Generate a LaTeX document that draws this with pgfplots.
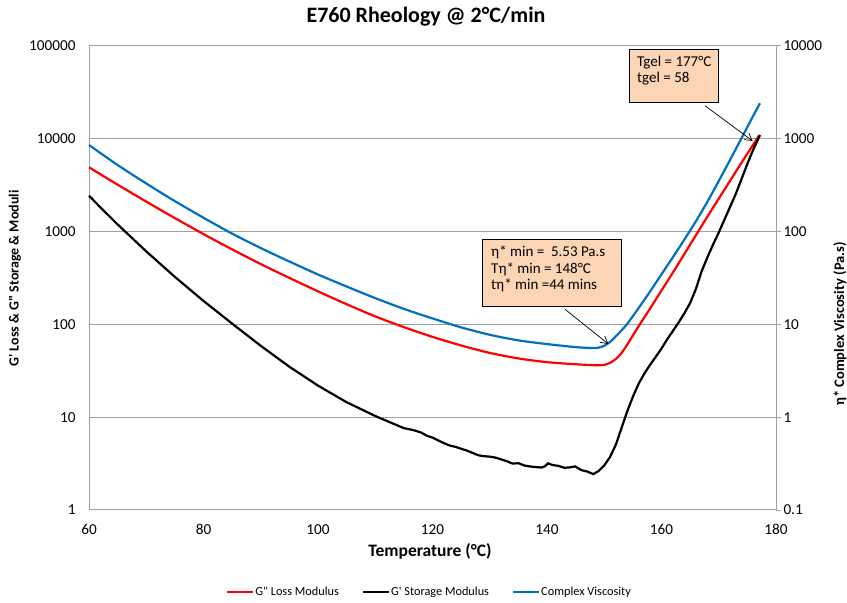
\documentclass[border=0pt]{standalone}
\usepackage{fontspec}
\setmainfont{Carlito}[Ligatures=TeXOff]
\usepackage{pgfplots}
\pgfplotsset{compat=1.18}
\usetikzlibrary{arrows.meta}
\definecolor{cblue}{RGB}{0,112,192}
\definecolor{peach}{RGB}{252,213,181}
\definecolor{gridgray}{RGB}{160,160,160}
\begin{document}
\begin{tikzpicture}
\path[use as bounding box] (0,0) rectangle (847pt,603pt);
\begin{axis}[
  at={(89pt,93pt)}, anchor=south west, scale only axis,
  width=687pt, height=464pt,
  xmin=60, xmax=180, xtick={60,80,...,180},
  ymode=log, ymin=1, ymax=100000,
  ytick={1,10,100,1000,10000,100000},
  yticklabels={1,10,100,1000,10000,100000},
  yminorticks=false, ymajorgrids,
  grid style={gridgray, line width=1pt},
  axis line style={gridgray, line width=1pt},
  tick style={draw=none},
  /pgf/number format/assume math mode=true,
  ticklabel style={font=\fontsize{15.2}{17}\selectfont},
  yticklabel style={xshift=-10pt},
  xticklabel style={yshift=-11pt},
  clip=false,
]
% G'' loss modulus
\addplot[red, line width=2.2pt, smooth] table {
60 4932
65 3203
70 2104
75 1398
80 940
85 643
90 447
95 317
100 227
105 165
110 122
115 93.4
120 73.4
125 59.3
130 49.3
135 43.0
140 39.2
145 37.2
148 36.4
149 36.3
150 36.7
151 38.5
152 42.2
153 49.0
154 60.3
155 75.9
156 95.5
157 119
158 148
160 232
162 363
164 575
166 912
168 1445
170 2265
172 3548
174 5559
176 8610
177.1 10965
};
% G' storage modulus
\addplot[black, line width=2.2pt] table {
60 2438
62 1820
65 1194
70 612
75 325
80 179
85 102
90 58.8
95 35.0
100 21.9
105 14.5
110 10.3
113 8.59
115 7.62
116 7.41
117 7.16
118 6.84
119 6.31
120 6.03
121 5.62
122 5.25
123 4.95
124 4.79
125 4.57
126 4.37
127 4.12
128 3.89
129 3.80
130 3.76
131 3.67
132 3.51
133 3.35
134 3.16
135 3.20
136 3.02
137 2.95
138 2.90
139 2.87
139.6 2.95
140.2 3.18
141 3.05
142 2.99
143 2.85
144 2.88
144.9 2.95
146 2.69
147 2.60
148.1 2.44
149 2.63
150 3.02
151 3.72
152 5.01
153 7.59
154 11.5
155 16.6
156 22.9
157 29.5
158 36.7
159 44.7
160 55.0
161 69.2
162 85.1
163 105
164 132
165 170
166 240
167 372
168 525
169 724
170 977
171 1349
172 1862
173 2570
174 3715
175 5370
176 7586
177.2 10965
};
\end{axis}
\begin{axis}[
  at={(89pt,93pt)}, anchor=south west, scale only axis,
  width=687pt, height=464pt,
  xmin=60, xmax=180, axis x line=none, axis y line*=right,
  ymode=log, ymin=0.1, ymax=10000,
  ytick={0.1,1,10,100,1000,10000},
  yticklabels={0.1,1,10,100,1000,10000},
  yminorticks=false,
  axis line style={gridgray, line width=1pt},
  tick align=outside, major tick length=5pt,
  ytick style={gridgray, line width=1pt},
  /pgf/number format/assume math mode=true,
  ticklabel style={font=\fontsize{15.2}{17}\selectfont},
  yticklabel style={xshift=-1pt},
  legend style={at={(0.495,-0.1767)}, anchor=center, draw=none, fill=none,
    font=\fontsize{12.3}{14}\selectfont, nodes={inner sep=1pt},
    /tikz/every even column/.append style={column sep=22pt}},
  legend columns=3,
  legend image code/.code={\draw[#1] (0pt,0pt) -- (26pt,0pt);},
  clip=false,
]
\addlegendimage{red, line width=2.2pt}
\addlegendentry{G" Loss Modulus}
\addlegendimage{black, line width=2.2pt}
\addlegendentry{G' Storage Modulus}
\addplot[cblue, line width=2.2pt, smooth] table {
60 857
65 522
70 330
75 213
80 141
85 95.1
90 66.5
95 47.6
100 34.5
105 25.6
110 19.2
115 14.7
120 11.6
125 9.29
130 7.73
135 6.73
140 6.14
145 5.69
148 5.56
149 5.62
150 5.89
151 6.46
152 7.41
153 8.61
154 10.1
156 15.0
158 22.6
160 34.7
162 53.1
164 82.2
166 129
168 209
170 351
172 596
174 1023
176 1758
177.2 2415
};
\addlegendentry{Complex Viscosity}
\end{axis}
% titles and labels
\node[anchor=base, font=\bfseries\fontsize{22}{26}\selectfont] at (426pt,580pt) {E760 Rheology @ 2°C/min};
\node[anchor=base, font=\bfseries\fontsize{17.5}{20}\selectfont] at (430pt,46pt) {Temperature (°C)};
\node[rotate=90, font=\bfseries\fontsize{14}{16}\selectfont] at (15pt,324.5pt) {G' Loss \& G" Storage \& Moduli};
\node[rotate=90, font=\bfseries\fontsize{14.5}{16}\selectfont] at (840pt,279pt) {η* Complex Viscosity (Pa.s)};
% annotation 1
\draw[fill=peach, line width=0.8pt] (629pt,553.7pt) rectangle (718.7pt,501pt);
\node[anchor=west, inner sep=0pt, font=\fontsize{15}{17}\selectfont] at (637pt,540.3pt) {Tgel = 177°C};
\node[anchor=west, inner sep=0pt, font=\fontsize{15}{17}\selectfont] at (637pt,524pt) {tgel = 58};
\draw[line width=0.7pt, -{Straight Barb[length=7pt,width=8pt]}] (705pt,497.3pt) -- (752.7pt,462pt);
% annotation 2
\draw[fill=peach, line width=0.8pt] (482.3pt,363.7pt) rectangle (621.7pt,296.3pt);
\node[anchor=west, inner sep=0pt, font=\fontsize{15}{17}\selectfont] at (491pt,351pt) {η* min =\ \ 5.53 Pa.s};
\node[anchor=west, inner sep=0pt, font=\fontsize{15}{17}\selectfont] at (491pt,333.7pt) {Tη* min = 148°C};
\node[anchor=west, inner sep=0pt, font=\fontsize{15}{17}\selectfont] at (491pt,318pt) {tη* min =44 mins};
\draw[line width=0.7pt, -{Straight Barb[length=7pt,width=8pt]}] (565pt,293.7pt) -- (608.3pt,259pt);
\end{tikzpicture}
\end{document}
